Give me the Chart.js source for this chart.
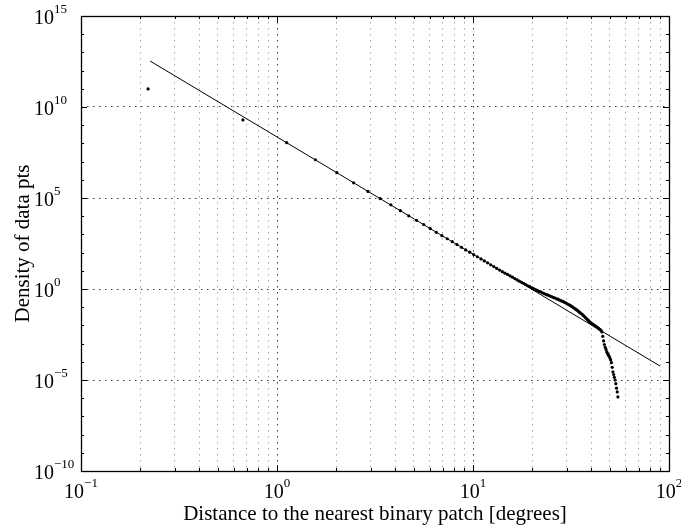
<!DOCTYPE html>
<html>
<head>
<meta charset="utf-8">
<title>Density of data pts</title>
<script src="https://cdn.jsdelivr.net/npm/chart.js@4.4.1/dist/chart.umd.min.js"></script>
<style>
  html, body { margin: 0; padding: 0; background: #fff; }
  #wrap { width: 681px; height: 529px; }
</style>
</head>
<body>
<div id="wrap"><canvas id="densityChart" width="681" height="529"></canvas></div>
<script>
// bin centres [degrees]
const distances = [
  0.22, 0.67, 1.12, 1.57, 2.02, 2.46, 2.91, 3.36, 3.81, 4.26,
  4.70, 5.15, 5.60, 6.05, 6.50, 6.94, 7.39, 7.84, 8.29, 8.74,
  9.18, 9.63, 10.08, 10.53, 10.98, 11.42, 11.87, 12.32, 12.77, 13.22,
  13.66, 14.11, 14.56, 15.01, 15.46, 15.90, 16.35, 16.80, 17.25, 17.70,
  18.14, 18.59, 19.04, 19.49, 19.94, 20.38, 20.83, 21.28, 21.73, 22.18,
  22.62, 23.07, 23.52, 23.97, 24.42, 24.86, 25.31, 25.76, 26.21, 26.66,
  27.10, 27.55, 28.00, 28.45, 28.90, 29.34, 29.79, 30.24, 30.69, 31.14,
  31.58, 32.03, 32.48, 32.93, 33.38, 33.82, 34.27, 34.72, 35.17, 35.62,
  36.06, 36.51, 36.96, 37.41, 37.86, 38.30, 38.75, 39.20, 39.65, 40.10,
  40.54, 40.99, 41.44, 41.89, 42.34, 42.78, 43.23, 43.68, 44.13, 44.58,
  45.02, 45.47, 45.92, 46.37, 46.82, 47.26, 47.71, 48.16, 48.61, 49.06,
  49.50, 49.95, 50.40, 50.85, 51.30, 51.74, 52.19, 52.64, 53.09, 53.54,
  53.98, 54.43, 54.88
];
// density of data pts in each bin
const densities = [
  9.8e10, 1.95e9, 1.1e8, 1.26e7, 2.45e6, 6.8e5, 2.3e5, 9.3e4, 4.2e4, 2.0e4,
  1.05e4, 5.9e3, 3.5e3, 2.1e3, 1.3e3, 850, 575, 400, 275, 195,
  141, 105, 78, 59, 45, 35, 27.5, 21.4, 17, 13.5,
  11, 8.9, 7.4, 6.3, 5.25, 4.47, 3.72, 3.16, 2.69, 2.34,
  2.04, 1.74, 1.51, 1.35, 1.17, 1.05, 0.93, 0.83, 0.74, 0.69,
  0.62, 0.56, 0.51, 0.47, 0.44, 0.40, 0.37, 0.34, 0.32, 0.29,
  0.275, 0.25, 0.23, 0.214, 0.20, 0.182, 0.17, 0.155, 0.141, 0.129,
  0.117, 0.107, 0.095, 0.087, 0.078, 0.071, 0.063, 0.056, 0.050, 0.045,
  0.041, 0.0355, 0.0316, 0.0275, 0.024, 0.0214, 0.019, 0.0166, 0.0148, 0.0135,
  0.0123, 0.0112, 0.0105, 0.0095, 0.0089, 0.0081, 0.0076, 0.0069, 0.0063, 0.0058,
  0.0052, 0.0044, 0.0025, 0.0014, 8.9e-4, 6.3e-4, 4.8e-4, 3.5e-4, 2.8e-4, 2.4e-4,
  2.0e-4, 1.6e-4, 1.26e-4, 8.9e-5, 5.0e-5, 2.8e-5, 2.0e-5, 1.4e-5, 1.0e-5, 6.3e-6,
  3.55e-6, 2.2e-6, 1.17e-6
];
// power-law fit (straight in log-log), its two end points
const fitX = [0.225, 89.9];
const fitY = [3.37e12, 5.9e-5];

// axes
const xMajorTicks = [0.1, 1, 10, 100];
const xTickExps = [-1, 0, 1, 2];
const xMinorSteps = [2, 3, 4, 5, 6, 7, 8, 9];
const yTicks = [1e-10, 1e-5, 1, 1e5, 1e10, 1e15];
const yTickExps = [-10, -5, 0, 5, 10, 15];
const xTitle = 'Distance to the nearest binary patch [degrees]';
const yTitle = 'Density of data pts';

const SERIF = '"Liberation Serif", "Times New Roman", serif';
const BASE_FONT = '20px ' + SERIF;
const SUP_FONT = '13px ' + SERIF;
const TITLE_FONT = '21px ' + SERIF;

// grid positions for x: 1..9 of each decade
const xGridValues = [];
xMajorTicks.slice(0, -1).forEach(d => {
    xGridValues.push(d);
    xMinorSteps.forEach(m => xGridValues.push(d * m));
});
xGridValues.push(xMajorTicks[xMajorTicks.length - 1]);

// draws "10" with a superscript exponent
function drawPower(ctx, exp, x, baseY, align) {
    const base = '10';
    const sup = exp < 0 ? '\u2212' + Math.abs(exp) : String(exp);
    ctx.font = BASE_FONT;
    const bw = ctx.measureText(base).width;
    ctx.font = SUP_FONT;
    const sw = ctx.measureText(sup).width;
    const left = align === 'center' ? x - (bw + sw) / 2 : x - bw;
    ctx.textAlign = 'left';
    ctx.textBaseline = 'alphabetic';
    ctx.font = BASE_FONT;
    ctx.fillText(base, left, baseY);
    ctx.font = SUP_FONT;
    ctx.fillText(sup, left + bw, baseY - 11);
}

// box, inward ticks, tick labels and axis titles
const frameAndLabels = {
    id: 'frameAndLabels',
    afterDraw(chart) {
        const { ctx, chartArea: a, scales: { x, y } } = chart;
        ctx.save();
        ctx.strokeStyle = '#000';
        ctx.fillStyle = '#000';
        ctx.lineWidth = 1;
        ctx.setLineDash([]);

        ctx.beginPath();
        x.ticks.forEach(t => {
            const px = Math.round(x.getPixelForValue(t.value)) + 0.5;
            const len = t.major ? 6 : 3;
            ctx.moveTo(px, a.bottom); ctx.lineTo(px, a.bottom - len);
            ctx.moveTo(px, a.top); ctx.lineTo(px, a.top + len);
        });
        for (let e = yTickExps[0]; e <= yTickExps[yTickExps.length - 1]; e++) {
            const py = Math.round(y.getPixelForValue(Math.pow(10, e))) + 0.5;
            const len = yTickExps.includes(e) ? 6 : 3;
            ctx.moveTo(a.left, py); ctx.lineTo(a.left + len, py);
            ctx.moveTo(a.right, py); ctx.lineTo(a.right - len, py);
        }
        ctx.stroke();

        ctx.lineWidth = 1.3;
        ctx.strokeRect(Math.round(a.left) + 0.5, Math.round(a.top) + 0.5,
            Math.round(a.right - a.left), Math.round(a.bottom - a.top));

        yTicks.forEach((v, i) => {
            const py = y.getPixelForValue(v);
            drawPower(ctx, yTickExps[i], a.left - 27, py + 8, 'right');
        });
        xMajorTicks.forEach((v, i) => {
            const px = x.getPixelForValue(v);
            drawPower(ctx, xTickExps[i], px, a.bottom + 27, 'center');
        });

        ctx.font = TITLE_FONT;
        ctx.textAlign = 'center';
        ctx.textBaseline = 'alphabetic';
        ctx.fillText(xTitle, (a.left + a.right) / 2, 520);

        ctx.translate(29, (a.top + a.bottom) / 2);
        ctx.rotate(-Math.PI / 2);
        ctx.fillText(yTitle, 0, 0);
        ctx.restore();
    }
};

document.addEventListener('DOMContentLoaded', function() {
    const ctx = document.getElementById('densityChart');
    new Chart(ctx, {
        type: 'scatter',
        data: {
            datasets: [{
                label: 'data',
                data: distances.map((d, i) => ({ x: d, y: densities[i] })),
                backgroundColor: '#000',
                borderWidth: 0,
                pointRadius: 1.6,
                pointHoverRadius: 1.6,
                showLine: false
            }, {
                label: 'fit',
                data: fitX.map((d, i) => ({ x: d, y: fitY[i] })),
                borderColor: '#000',
                borderWidth: 1,
                pointRadius: 0,
                showLine: true
            }]
        },
        options: {
            responsive: false,
            animation: false,
            layout: { padding: { left: 81, right: 12, top: 16, bottom: 58 } },
            plugins: {
                legend: { display: false },
                tooltip: { enabled: false }
            },
            scales: {
                x: {
                    type: 'logarithmic',
                    min: 0.1,
                    max: 100,
                    afterBuildTicks: s => {
                        s.ticks = xGridValues.map(v => ({ value: v, major: xMajorTicks.includes(v) }));
                    },
                    ticks: { display: false },
                    grid: {
                        drawTicks: false,
                        lineWidth: 1,
                        color: c => (c.tick && c.tick.major) ? '#3c3c3c' : '#a6a6a6'
                    },
                    border: { display: false, dash: [1.5, 4.5] }
                },
                y: {
                    type: 'logarithmic',
                    min: 1e-10,
                    max: 1e15,
                    afterBuildTicks: s => {
                        s.ticks = yTicks.map(v => ({ value: v, major: true }));
                    },
                    ticks: { display: false },
                    grid: { drawTicks: false, lineWidth: 1, color: '#3c3c3c' },
                    border: { display: false, dash: [1.5, 4.5] }
                }
            }
        },
        plugins: [frameAndLabels]
    });
});
</script>
</body>
</html>
